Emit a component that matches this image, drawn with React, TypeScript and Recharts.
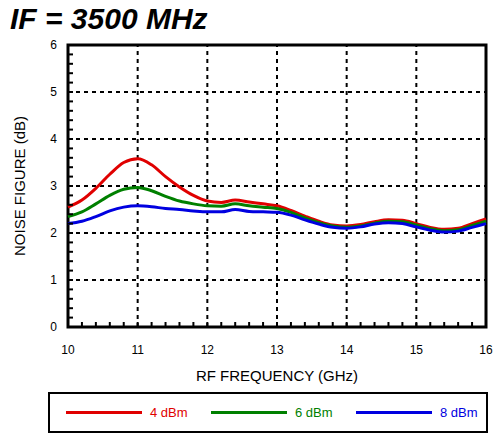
import React from "react";
import { LineChart, Line, XAxis, YAxis, ReferenceLine, ReferenceArea } from "recharts";

const freqs = [10, 10.2, 10.4, 10.6, 10.8, 11, 11.2, 11.4, 11.6, 11.8, 12, 12.2, 12.4, 12.6, 12.8, 13, 13.2, 13.4, 13.6, 13.8, 14, 14.2, 14.4, 14.6, 14.8, 15, 15.2, 15.4, 15.6, 15.8, 16];
const nf4 = [2.55, 2.7, 2.95, 3.25, 3.5, 3.58, 3.45, 3.2, 2.98, 2.8, 2.68, 2.65, 2.7, 2.66, 2.62, 2.58, 2.48, 2.36, 2.25, 2.17, 2.15, 2.18, 2.24, 2.28, 2.27, 2.2, 2.12, 2.08, 2.1, 2.2, 2.3];
const nf6 = [2.35, 2.45, 2.62, 2.8, 2.93, 2.97, 2.9, 2.78, 2.68, 2.62, 2.58, 2.57, 2.62, 2.58, 2.55, 2.52, 2.44, 2.32, 2.22, 2.15, 2.12, 2.15, 2.21, 2.25, 2.24, 2.17, 2.09, 2.05, 2.07, 2.16, 2.25];
const nf8 = [2.2, 2.25, 2.35, 2.47, 2.55, 2.58, 2.56, 2.52, 2.5, 2.47, 2.45, 2.45, 2.5, 2.46, 2.45, 2.44, 2.38, 2.28, 2.19, 2.12, 2.1, 2.13, 2.19, 2.22, 2.2, 2.13, 2.06, 2.02, 2.04, 2.12, 2.2];

const xMajor = [10, 11, 12, 13, 14, 15, 16];
const yMajor = [0, 1, 2, 3, 4, 5, 6];
const xMinor = Array.from({ length: 31 }, (_, i) => Math.round((10 + i * 0.2) * 10) / 10);
const yMinor = Array.from({ length: 31 }, (_, i) => Math.round(i * 0.2 * 10) / 10);

const series = [
	{ key: "nf4", name: "4 dBm", color: "#e00000" },
	{ key: "nf6", name: "6 dBm", color: "#008000" },
	{ key: "nf8", name: "8 dBm", color: "#0000e0" },
];

const data = freqs.map((f, i) => ({ f, nf4: nf4[i], nf6: nf6[i], nf8: nf8[i] }));

const font = "'Liberation Sans', Arial, sans-serif";

const XTick = (props: any) => {
	const { x, y, payload } = props;
	const v = payload.value;
	const major = Number.isInteger(v);
	return (
		<g>
			<line x1={x} x2={x} y1={y} y2={y - 5} stroke="#000" strokeWidth={2} />
			{major && (
				<text x={x} y={y + 27} textAnchor="middle" fontSize={12} fill="#000" fontFamily={font}>
					{v}
				</text>
			)}
		</g>
	);
};

const YTick = (props: any) => {
	const { x, y, payload } = props;
	const v = payload.value;
	const major = Number.isInteger(v);
	return (
		<g>
			<line x1={x} x2={x + 5} y1={y} y2={y} stroke="#000" strokeWidth={2} />
			{major && (
				<text x={x - 11} y={y + 4} textAnchor="end" fontSize={12} fill="#000" fontFamily={font}>
					{v}
				</text>
			)}
		</g>
	);
};

export default function App() {
	return (
		<div
			style={{
				position: "absolute",
				left: 0,
				top: 0,
				width: 494,
				height: 435,
				overflow: "hidden",
				background: "#fff",
				fontFamily: font,
			}}
		>
			<div
				style={{
					position: "absolute",
					left: 10,
					top: 2,
					fontSize: 30,
					lineHeight: "34px",
					fontWeight: "bold",
					fontStyle: "italic",
					color: "#000",
				}}
			>
				IF = 3500 MHz
			</div>
			<div style={{ position: "absolute", left: 0, top: 0 }}>
				<LineChart width={494} height={387} data={data} margin={{ top: 45, right: 8, bottom: 0, left: 0 }}>
					<XAxis
						dataKey="f"
						type="number"
						domain={[10, 16]}
						ticks={xMinor}
						interval={0}
						tick={<XTick />}
						tickLine={false}
						axisLine={false}
						tickSize={0}
						tickMargin={0}
						height={60}
						label={{ value: "RF FREQUENCY (GHz)", position: "insideBottom", offset: 6, fontSize: 15, fill: "#000" }}
					/>
					<YAxis
						type="number"
						domain={[0, 6]}
						ticks={yMinor}
						interval={0}
						tick={<YTick />}
						tickLine={false}
						axisLine={false}
						tickSize={0}
						tickMargin={0}
						width={68}
						label={{ value: "NOISE FIGURE (dB)", angle: -90, position: "insideLeft", offset: 20, fontSize: 15, fill: "#000", style: { textAnchor: "middle" } }}
					/>
					{xMajor.slice(1, -1).map((v) => (
						<ReferenceLine key={`x${v}`} x={v} stroke="#000" strokeWidth={2} strokeDasharray="4 4" />
					))}
					{yMajor.slice(1, -1).map((v) => (
						<ReferenceLine key={`y${v}`} y={v} stroke="#000" strokeWidth={2} strokeDasharray="4 4" />
					))}
					<ReferenceArea x1={10} x2={16} y1={0} y2={6} fill="none" stroke="#000" strokeWidth={3} />
					{series.map((s) => (
						<Line
							key={s.key}
							dataKey={s.key}
							name={s.name}
							type="monotone"
							stroke={s.color}
							strokeWidth={3}
							dot={false}
							isAnimationActive={false}
						/>
					))}
				</LineChart>
			</div>
			<div
				style={{
					position: "absolute",
					left: 48,
					top: 392,
					width: 436,
					height: 37,
					border: "2px solid #000",
					display: "flex",
					alignItems: "center",
				}}
			>
				{series.map((s) => (
					<div key={s.key} style={{ display: "flex", alignItems: "center", marginLeft: 16, width: 129 }}>
						<div style={{ width: 76, height: 3, background: s.color }} />
						<span style={{ marginLeft: 8, fontSize: 13, color: s.color }}>{s.name}</span>
					</div>
				))}
			</div>
		</div>
	);
}
